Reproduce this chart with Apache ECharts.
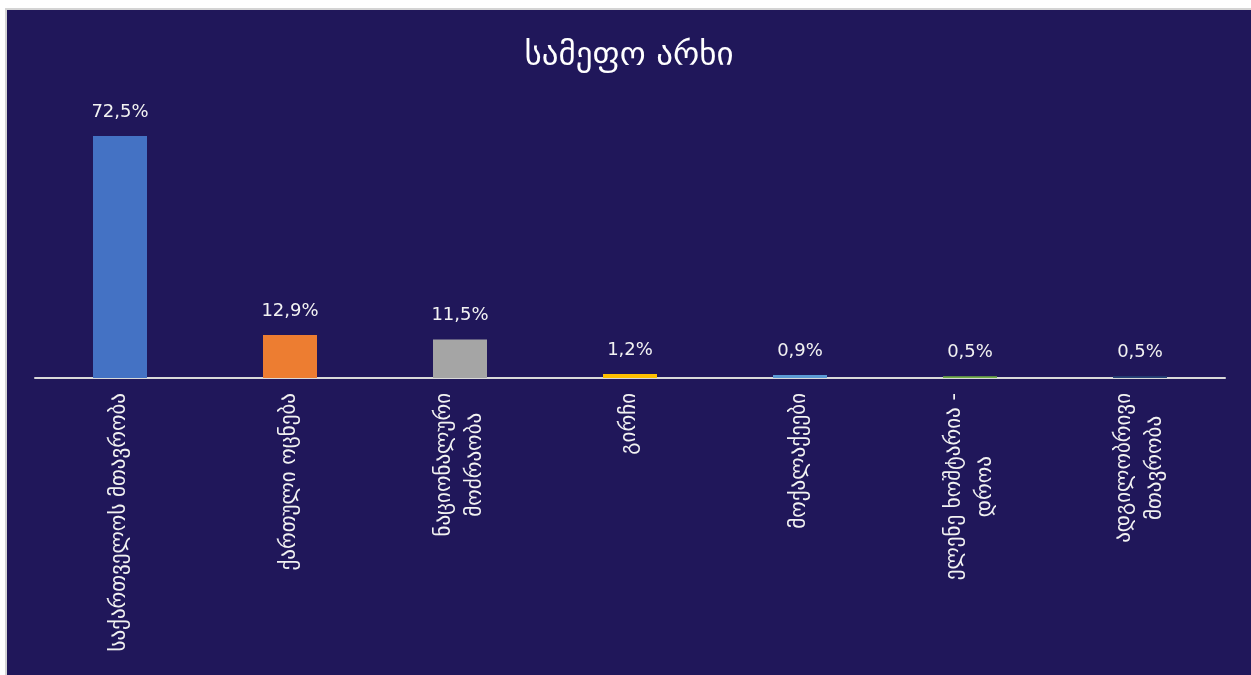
<!DOCTYPE html>
<html>
<head>
    <meta charset="utf-8">
    <style>
        body {
            margin: 0;
            background-color: #fff;
        }

        #frame {
            position: absolute;
            left: 5px;
            top: 8px;
            width: 1246px;
            height: 667px;
            background-color: #d4d4d4;
        }

        #main {
            position: absolute;
            left: 7px;
            top: 10px;
            width: 1244px;
            height: 665px;
        }
    </style>
    <script src="https://cdn.jsdelivr.net/npm/echarts@6/dist/echarts.min.js"></script>
</head>
<body>
    <div id="frame"></div>
    <div id="main"></div>
    <script type="text/javascript">
        var titleText = 'სამეფო არხი';
        var categories = [
            'საქართველოს მთავრობა',
            'ქართული ოცნება',
            'ნაციონალური\nმოძრაობა',
            'გირჩი',
            'მოქალაქეები',
            'ელენე ხოშტარია -\nდროა',
            'ადგილობრივი\nმთავრობა'
        ];
        var values = [72.5, 12.9, 11.5, 1.2, 0.9, 0.5, 0.5];
        var barColors = ['#4472c4', '#ed7d31', '#a5a5a5', '#ffc000', '#5b9bd5', '#70ad47', '#264478'];

        var myChart = echarts.init(document.getElementById('main'));

        var option = {
            backgroundColor: '#20175a',
            textStyle: {
                fontFamily: 'DejaVu Sans'
            },
            title: {
                text: titleText,
                left: 'center',
                top: 25,
                textStyle: {
                    color: '#ffffff',
                    fontSize: 33,
                    fontWeight: 'normal',
                    fontFamily: 'DejaVu Sans'
                }
            },
            grid: {
                left: 28,
                right: 26,
                top: 101,
                bottom: 297
            },
            xAxis: {
                type: 'category',
                data: categories,
                axisLine: {
                    lineStyle: { color: '#d9d9d9', width: 2 }
                },
                axisTick: { show: false },
                axisLabel: {
                    rotate: 90,
                    interval: 0,
                    margin: 15,
                    color: '#f2f2f2',
                    fontSize: 21,
                    lineHeight: 31,
                    // center each line within the label block, like the original
                    formatter: function (v) {
                        return v.split('\n').map(function (s) {
                            return '{c|' + s + '}';
                        }).join('\n');
                    },
                    rich: {
                        c: {
                            align: 'center',
                            color: '#f2f2f2',
                            fontSize: 21,
                            lineHeight: 31
                        }
                    }
                }
            },
            yAxis: {
                type: 'value',
                min: 0,
                max: 80,
                show: false,
                splitLine: { show: false }
            },
            series: [
                {
                    type: 'bar',
                    barWidth: 54,
                    data: values.map(function (v, i) {
                        return { value: v, itemStyle: { color: barColors[i] } };
                    }),
                    label: {
                        show: true,
                        position: 'top',
                        distance: 15,
                        color: '#f2f2f2',
                        fontSize: 18,
                        formatter: function (p) {
                            return p.value.toFixed(1).replace('.', ',') + '%';
                        }
                    }
                }
            ]
        };

        myChart.setOption(option);
    </script>
</body>
</html>
